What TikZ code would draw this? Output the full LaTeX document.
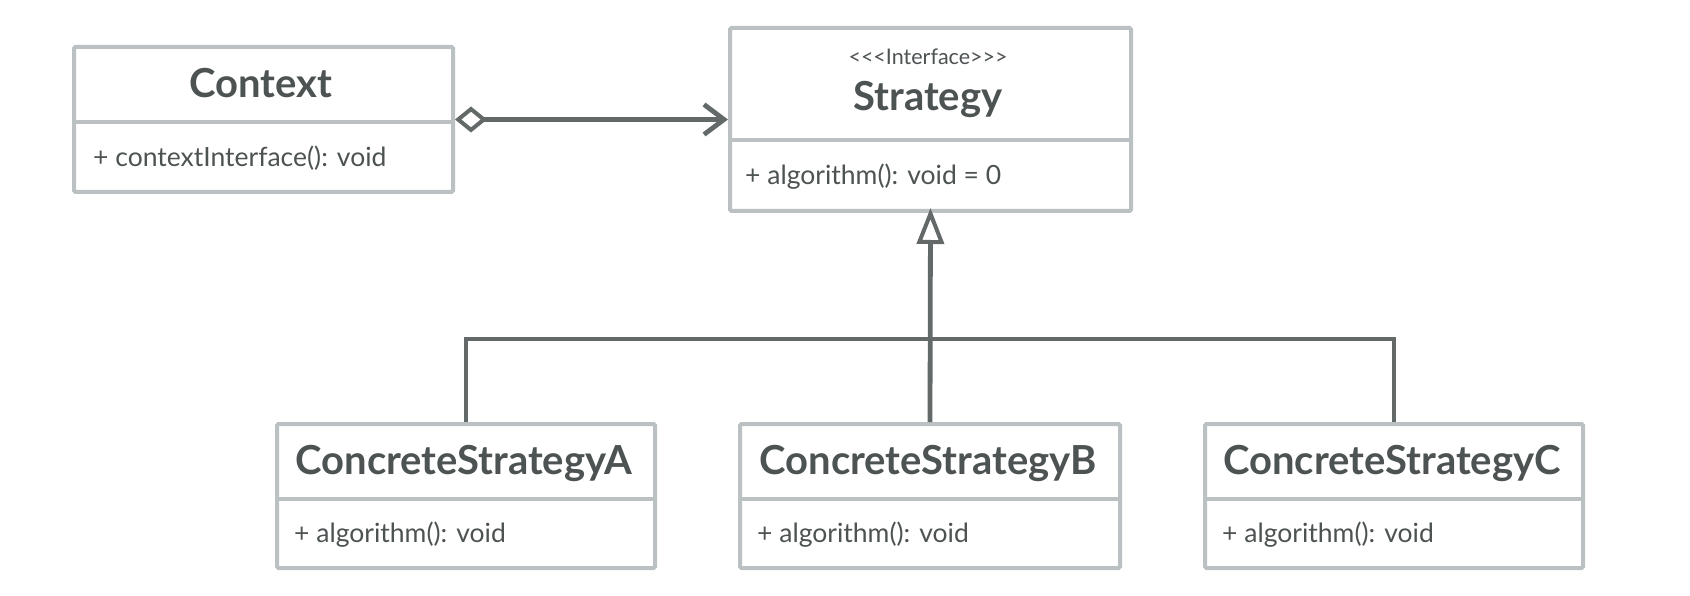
\documentclass[tikz,border=0pt]{standalone}
\usepackage{fontspec}
\setmainfont{Lato}
\usetikzlibrary{arrows.meta}
\definecolor{boxgray}{HTML}{BBC0C2}
\definecolor{linegray}{HTML}{636869}
\definecolor{txtgray}{HTML}{4D5253}
\tikzset{
  x=1pt, y=-1pt,
  cls/.style={draw=boxgray, line width=4pt, fill=white, rounded corners=1.5pt, anchor=north west, inner sep=0pt},
  ttl/.style={text=txtgray, font=\fontsize{40}{43}\selectfont\bfseries, inner sep=0pt},
  meth/.style={text=txtgray, font=\fontsize{26.5}{30}\selectfont, inner sep=0pt, anchor=west},
  stereo/.style={text=txtgray, font=\fontsize{21.5}{24}\selectfont, inner sep=0pt},
  divider/.style={draw=boxgray, line width=4pt},
  conn/.style={draw=linegray, line width=4.8pt},
}
\begin{document}
\begin{tikzpicture}
\useasboundingbox (0,0) rectangle (1690,596);
% Context
\node[cls, minimum width=379pt, minimum height=145pt] (ctx) at (72,45) {};
\coordinate (ctxdivL) at (72,122);
\draw[divider] (ctxdivL) -- (ctxdivL -| ctx.east);
\node[ttl] (ctxt) at (261,83) {Context};
\node[meth] (ctxm) at (93,158) {+ contextInterface(): void};
% Strategy
\node[cls, minimum width=401pt, minimum height=183pt] (str) at (728,26) {};
\coordinate (strdivL) at (728,140);
\draw[divider] (strdivL) -- (strdivL -| str.east);
\node[stereo] (strs) at (928,57) {\symbol{60}\symbol{60}\symbol{60}Interface\symbol{62}\symbol{62}\symbol{62}};
\node[ttl] (strt) at (928,99) {Strategy};
\node[meth] (strm) at (745,177) {+ algorithm(): void = 0};
% Concrete A
\node[cls, minimum width=378pt, minimum height=144pt] (ca) at (275,422) {};
\coordinate (cadivL) at (275,499);
\draw[divider] (cadivL) -- (cadivL -| ca.east);
\node[ttl] (cat) at (464,463) {ConcreteStrategyA};
\node[meth] (cam) at (294,535) {+ algorithm(): void};
% Concrete B
\node[cls, minimum width=380pt, minimum height=144pt] (cb) at (738,422) {};
\coordinate (cbdivL) at (738,499);
\draw[divider] (cbdivL) -- (cbdivL -| cb.east);
\node[ttl] (cbt) at (928,463) {ConcreteStrategyB};
\node[meth] (cbm) at (757,535) {+ algorithm(): void};
% Concrete C
\node[cls, minimum width=378pt, minimum height=144pt] (cc) at (1203,422) {};
\coordinate (ccdivL) at (1203,499);
\draw[divider] (ccdivL) -- (ccdivL -| cc.east);
\node[ttl] (cct) at (1392,463) {ConcreteStrategyC};
\node[meth] (ccm) at (1222,535) {+ algorithm(): void};
% connectors
\coordinate (bar) at (928,339);
\draw[conn] (ca.north) |- (bar) -| (cc.north);
\draw[conn, -{Triangle[open, length=36pt, width=27pt, line width=4pt, fill=white]}] (cb.north) -- ([yshift=5pt]str.south);
\draw[conn, {Diamond[open, length=32pt, width=26pt, line width=4pt, fill=white]}-{Straight Barb[length=20pt, width=30pt, line width=4.8pt]}] (ctx.east) -- (ctx.east -| str.west);
\end{tikzpicture}
\end{document}
